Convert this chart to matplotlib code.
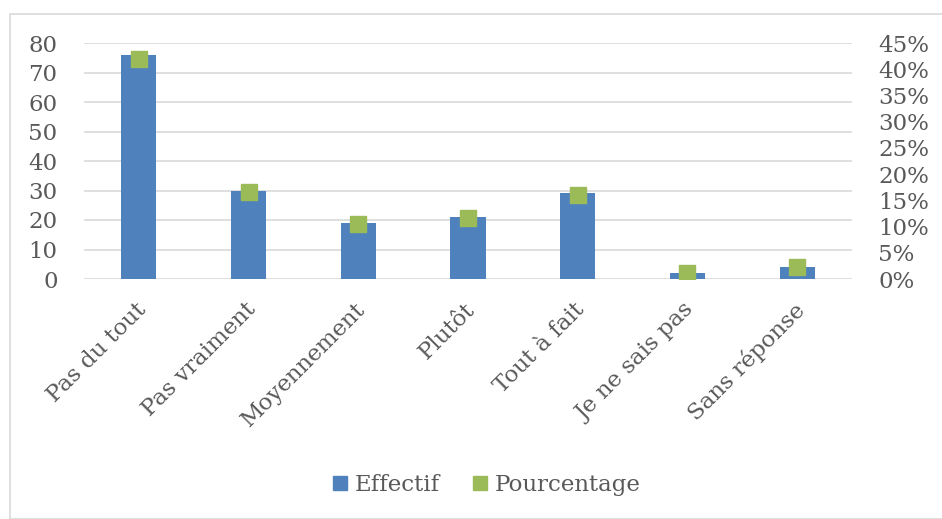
import matplotlib.pyplot as plt
from matplotlib.patches import Rectangle
from matplotlib.lines import Line2D
from matplotlib.ticker import FuncFormatter
import matplotlib.transforms as mtransforms

categories = ['Pas du tout', 'Pas vraiment', 'Moyennement', 'Plutôt',
              'Tout à fait', 'Je ne sais pas', 'Sans réponse']
effectif = [76, 30, 19, 21, 29, 2, 4]
pourcentage = [42.0, 16.6, 10.5, 11.6, 16.0, 1.1, 2.2]

blue = '#4f81bd'
green = '#9bbb59'
grey = '#595959'
serif = 'DejaVu Serif'

fig = plt.figure(figsize=(9.42, 5.19), dpi=100)
fig.patches.append(Rectangle((10 / 942, 0), 1, 1 - 14 / 519, transform=fig.transFigure,
                             fill=False, edgecolor='#d9d9d9', linewidth=1.2))

ax = fig.add_axes([84 / 942, 1 - 279 / 519, (852 - 84) / 942, (279 - 43) / 519])
x = list(range(len(categories)))
ax.bar(x, effectif, width=0.32, color=blue, zorder=2)
ax.set_xlim(-0.5, len(categories) - 0.5)
ax.set_ylim(0, 80)
ax.set_yticks(range(0, 81, 10))
ax.grid(axis='y', color='#d9d9d9', linewidth=1.2, zorder=0)
for s in ax.spines.values():
    s.set_visible(False)
ax.tick_params(axis='y', length=0, labelsize=16.5, labelcolor=grey, pad=19)
ax.tick_params(axis='x', length=0, labelsize=16.5, labelcolor=grey, pad=14)
ax.set_xticks(x)
ax.set_xticklabels(categories, rotation=45, ha='right', rotation_mode='anchor')
shift = mtransforms.ScaledTranslation(-4 / 100, 0, fig.dpi_scale_trans)
for lab in ax.get_xticklabels():
    lab.set_family(serif)
    lab.set_transform(lab.get_transform() + shift)
for lab in ax.get_yticklabels():
    lab.set_family(serif)

ax2 = ax.twinx()
ax2.scatter(x, pourcentage, marker='s', s=120, color=green, zorder=3)
ax2.set_ylim(0, 45)
ax2.set_yticks(range(0, 46, 5))
ax2.yaxis.set_major_formatter(FuncFormatter(lambda v, p: f'{v:.0f}%'))
for s in ax2.spines.values():
    s.set_visible(False)
ax2.tick_params(length=0, labelsize=16.5, labelcolor=grey, pad=19)
for lab in ax2.get_yticklabels():
    lab.set_family(serif)

handles = [Line2D([], [], marker='s', linestyle='none', color=blue, markersize=10),
           Line2D([], [], marker='s', linestyle='none', color=green, markersize=10)]
fig.legend(handles, ['Effectif', 'Pourcentage'], loc='center', ncol=2,
           bbox_to_anchor=(485 / 942, 1 - 485 / 519), frameon=False,
           prop={'family': serif, 'size': 16.5}, labelcolor=grey,
           handletextpad=0.2, columnspacing=1.3, handlelength=0.9)

plt.savefig('out.png', dpi=100)
